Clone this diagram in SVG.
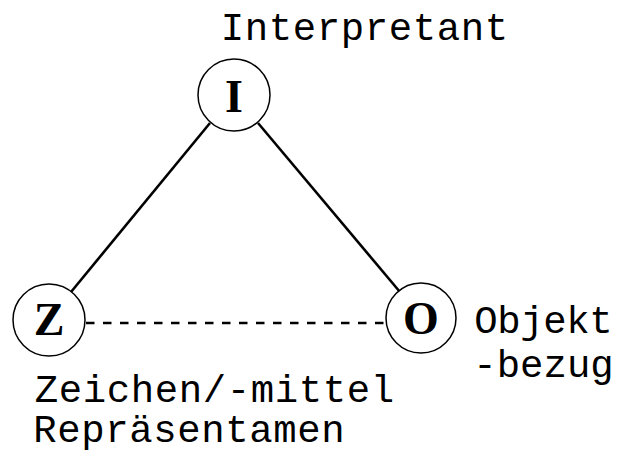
<svg xmlns="http://www.w3.org/2000/svg" width="630" height="454" viewBox="0 0 630 454">
<style>
.node circle{fill:#fff;stroke:#000;stroke-width:1.5}
.ltr{font-family:"Liberation Serif","Times New Roman",serif;font-weight:bold;font-size:46px;text-anchor:middle;fill:#000}
.lbl{font-family:"Liberation Mono","Courier New",monospace;font-size:39px;text-anchor:middle;fill:#000}
.edge{stroke:#000;stroke-width:2.6;fill:none}
</style>
<rect width="630" height="454" fill="#fff"/>
<g id="connectors">
<line class="edge" x1="210" y1="123" x2="71" y2="292"/>
<line class="edge" x1="258" y1="123" x2="400" y2="292"/>
<line class="edge" x1="86" y1="323" x2="387" y2="323" stroke-width="3" stroke-dasharray="8.5,8.5"/>
</g>
<g id="node-I" class="node">
<circle cx="234" cy="95" r="36"/>
<text class="ltr" x="234" y="112">I</text>
</g>
<g id="node-Z" class="node">
<circle cx="49" cy="320" r="36"/>
<text class="ltr" x="49" y="335">Z</text>
</g>
<g id="node-O" class="node">
<circle cx="421" cy="318" r="35"/>
<text class="ltr" x="421" y="334">O</text>
</g>
<text class="lbl" x="232.5 256.5 280.5 304.5 328.5 352.5 376.5 400.5 424.5 448.5 472.5 496.5" y="40">Interpretant</text>
<text class="lbl" x="486 509 532 555 578 601" y="333">Objekt</text>
<text class="lbl" x="485 508.4 531.8 555.2 578.6 602" y="377">-bezug</text>
<text class="lbl" x="46.5 70.5 94.5 118.5 142.5 166.5 190.5 214.5 238.5 262.5 286.5 310.5 334.5 358.5 382.5" y="402">Zeichen/-mittel</text>
<text class="lbl" x="45 69 93 117 141 165 189 213 237 261 285 309 333" y="442">Repräsentamen</text>
</svg>
